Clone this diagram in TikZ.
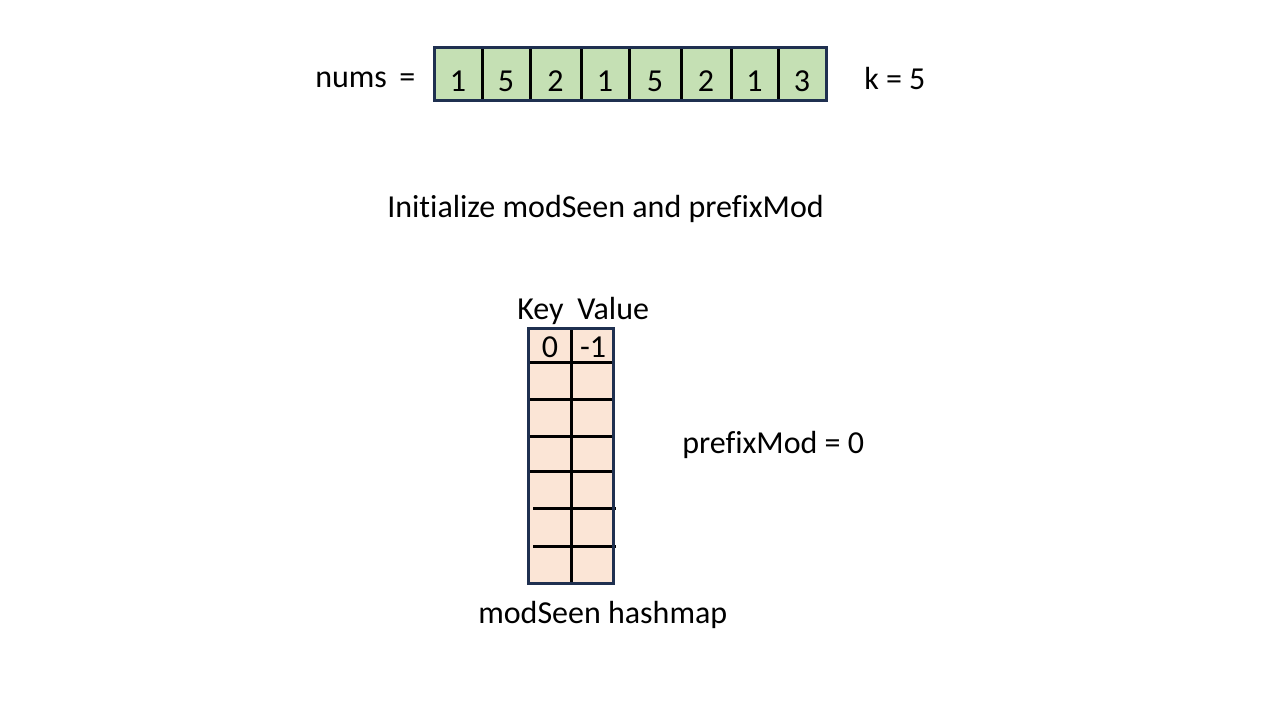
\documentclass[tikz,border=0pt]{standalone}
\usepackage{fontspec}
\setmainfont{Carlito}[Ligatures=NoCommon]
\definecolor{navy}{HTML}{1F3050}
\definecolor{cellgreen}{HTML}{C5E0B4}
\definecolor{cellpeach}{HTML}{FBE5D6}
\begin{document}
\begin{tikzpicture}[x=0.75pt, y=-0.75pt, every node/.style = {inner sep=0pt, font=\fontsize{24}{28.8}\selectfont},
                        label text/.style = {anchor=base west}, cell text/.style = {anchor=base},
                        frame/.style = {draw=navy, line width=2.25pt}, divider/.style = {draw=black, line width=2.25pt}]
        \useasboundingbox (0,0) rectangle (1280,720);
        % nums array
        \fill[cellgreen] (434,48) rectangle (826,101);
        \foreach \x in {482,530,581,629,681,731,778}
          \draw[divider] (\x,48) -- (\x,101);
        \draw[frame] (434,48) rectangle (826,101);
        \foreach \v [count=\i] / \l / \r in {1/434/482, 5/482/530, 2/530/581, 1/581/629, 5/629/681, 2/681/731, 1/731/778, 3/778/826}
          \node[cell text] (c\i) at ({(\l+\r)/2},92) {\v};
        \node[label text] (nums) at (315,88) {nums\,\ =};
        \node[label text] (k) at (864,90) {k = 5};
        \node[label text] (title) at (387,218) {Initialize modSeen and prefixMod};
        % modSeen hashmap
        \fill[cellpeach] (528,328) rectangle (613,583);
        \draw[divider] (571,328) -- (571,583);
        \foreach \y in {362,399,436,471}
          \draw[divider] (530,\y) -- (613,\y);
        \foreach \y in {508,546}
          \draw[divider] (533,\y) -- (616,\y);
        \draw[frame] (528,328) rectangle (613,583);
        \node[cell text] (key0) at (550,357) {0};
        \node[cell text] (val0) at (593,357) {-1};
        \node[label text] (keyhead) at (517,319) {Key};
        \node[label text] (valhead) at (577,319) {Value};
        \node[label text] (prefix) at (682,453) {prefixMod = 0};
        \node[label text] (caption) at (478,623) {modSeen hashmap};
    \end{tikzpicture}
\end{document}
